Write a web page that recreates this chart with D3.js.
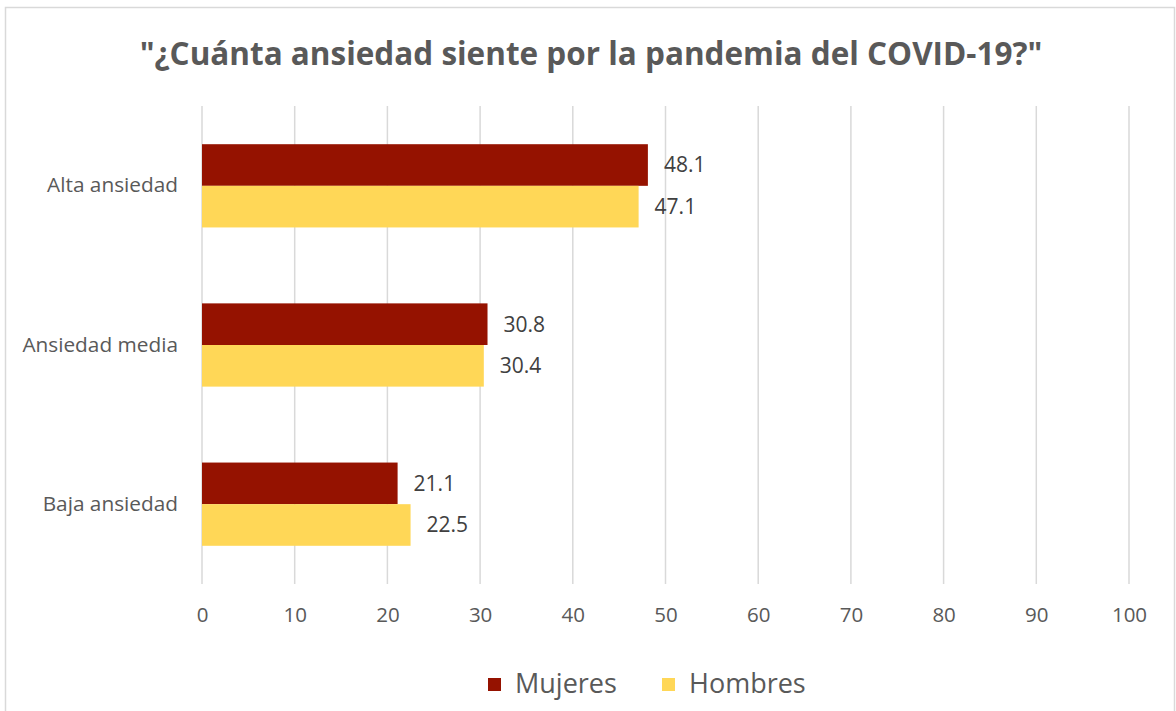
<!DOCTYPE html>
<html>
<head>
<meta charset="utf-8">
<script src="https://cdn.jsdelivr.net/npm/d3@7"></script>
<style>
  body { margin: 0; background: #fff; }
  text { font-family: "Open Sans", "Noto Sans", sans-serif; fill: #595959; }
</style>
</head>
<body>
<div id="chart"></div>
<script>
// data
const categories = ["Alta ansiedad", "Ansiedad media", "Baja ansiedad"];
const seriesNames = ["Mujeres", "Hombres"];
const mujeres = [48.1, 30.8, 21.1];
const hombres = [47.1, 30.4, 22.5];
const xTicks = [0, 10, 20, 30, 40, 50, 60, 70, 80, 90, 100];
const titleText = '"¿Cuánta ansiedad siente por la pandemia del COVID-19?"';
const colors = ["#951200", "#FFD757"];

const width = 1176, height = 711;
const margin = { top: 106, right: 47, bottom: 127, left: 202 };
const innerW = width - margin.left - margin.right;
const innerH = height - margin.top - margin.bottom;

const svg = d3.select('#chart').append('svg')
  .attr('width', width).attr('height', height);

// chart border
svg.append('rect')
  .attr('x', 5.5).attr('y', 7.5)
  .attr('width', 1169).attr('height', 720)
  .attr('fill', 'none').attr('stroke', '#d9d9d9').attr('stroke-width', 1.5);

// title, fitted to the reference width
const title = svg.append('text')
  .attr('x', 591).attr('y', 65)
  .attr('text-anchor', 'middle')
  .style('font-weight', 'bold')
  .style('font-size', '32px')
  .text(titleText);
const tw = title.node().getComputedTextLength();
title.style('font-size', (32 * 903 / tw).toFixed(2) + 'px');

const g = svg.append('g').attr('transform', `translate(${margin.left},${margin.top})`);

const x = d3.scaleLinear().domain([0, 100]).range([0, innerW]);
const y0 = d3.scaleBand().domain(categories).range([0, innerH]).paddingInner(0.477).paddingOuter(0.24);
const y1 = d3.scaleBand().domain(seriesNames).range([0, y0.bandwidth()]);

// gridlines
g.selectAll('line.grid').data(xTicks).enter().append('line')
  .attr('class', 'grid')
  .attr('x1', d => x(d)).attr('x2', d => x(d))
  .attr('y1', 0).attr('y2', innerH)
  .attr('stroke', '#d9d9d9').attr('stroke-width', 1.5);

// x axis labels
const xAxis = d3.axisBottom(x).tickValues(xTicks).tickSize(0).tickPadding(23);
g.append('g')
  .attr('transform', `translate(0,${innerH})`)
  .call(xAxis)
  .call(a => a.select('.domain').remove())
  .selectAll('text')
  .style('font-size', '20.5px')
  .attr('fill', '#595959');

// y axis labels
const yAxis = d3.axisLeft(y0).tickSize(0).tickPadding(24);
g.append('g')
  .call(yAxis)
  .call(a => a.select('.domain').remove())
  .selectAll('text')
  .style('font-size', '20.8px')
  .attr('fill', '#595959');

// bars
const rows = categories.map((c, i) => ({ cat: c, vals: [mujeres[i], hombres[i]] }));
const grp = g.selectAll('g.cat').data(rows).enter().append('g')
  .attr('class', 'cat')
  .attr('transform', d => `translate(0,${y0(d.cat)})`);

grp.selectAll('rect').data(d => d.vals.map((v, j) => ({ s: seriesNames[j], v, j })))
  .enter().append('rect')
  .attr('x', 0)
  .attr('y', d => y1(d.s))
  .attr('width', d => x(d.v))
  .attr('height', y1.bandwidth())
  .attr('fill', d => colors[d.j]);

grp.selectAll('text.val').data(d => d.vals.map((v, j) => ({ s: seriesNames[j], v, j })))
  .enter().append('text')
  .attr('class', 'val')
  .attr('x', d => x(d.v) + 16)
  .attr('y', d => y1(d.s) + y1.bandwidth() / 2)
  .attr('dy', '0.35em')
  .style('font-size', '21px')
  .style('fill', '#404040')
  .text(d => d3.format('.1f')(d.v));

// legend
const legend = svg.append('g').attr('transform', 'translate(488,684)');
const legX = [0, 174];
seriesNames.forEach((s, i) => {
  const lg = legend.append('g').attr('transform', `translate(${legX[i]},0)`);
  lg.append('rect').attr('x', 0).attr('y', -6).attr('width', 13).attr('height', 13).attr('fill', colors[i]);
  lg.append('text').attr('x', 27).attr('y', 0).attr('dy', '0.35em')
    .style('font-size', '27px').text(s);
});
</script>
</body>
</html>
